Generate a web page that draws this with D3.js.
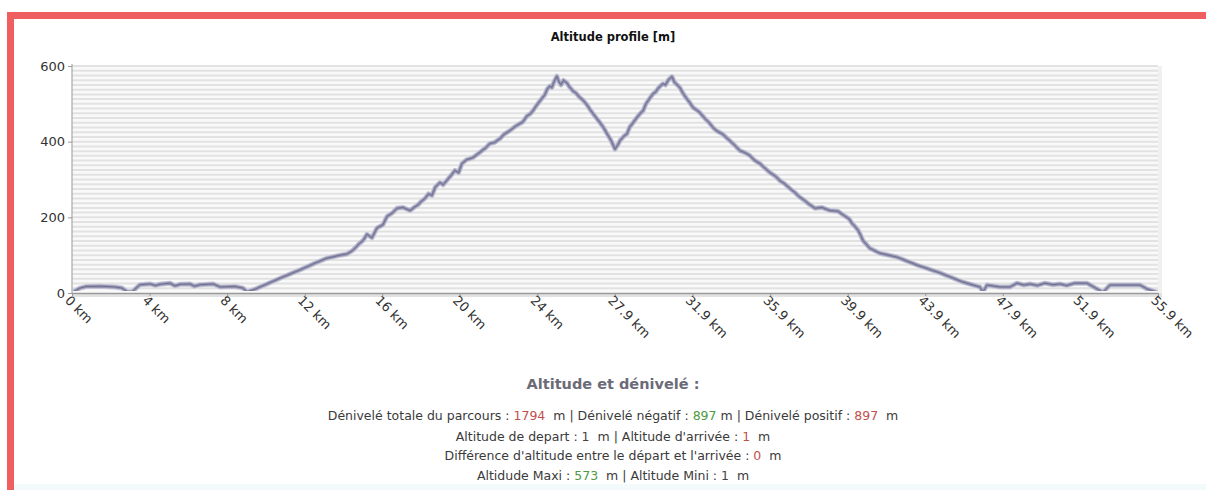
<!DOCTYPE html>
<html><head><meta charset="utf-8">
<script src="https://cdn.jsdelivr.net/npm/d3@7"></script>
<style>html,body{margin:0;padding:0;background:#fff;}svg{display:block;} .stats{white-space:pre;}</style>
</head><body>
<script>
// ---- data ----
const distKm = [
  0, 0.41, 0.72, 1.44, 2.21, 2.57, 2.83, 3.09, 3.5, 4.01,
  4.3, 4.53, 5.04, 5.3, 5.56, 6.07, 6.3, 6.59, 7.26, 7.62,
  8.39, 8.8, 9.01, 9.42, 10.04, 10.71, 11.73, 12.51, 13.12, 13.79,
  14.15, 14.46, 14.82, 15.0, 15.18, 15.44, 15.7, 16.0, 16.21, 16.5,
  16.73, 17.04, 17.4, 17.6, 17.81, 18.0, 18.17, 18.35, 18.53, 18.7,
  18.94, 19.1, 19.35, 19.5, 19.71, 19.9, 20.07, 20.3, 20.64, 20.85,
  21.1, 21.3, 21.51, 21.75, 22.03, 22.25, 22.54, 22.75, 22.96, 23.2,
  23.42, 23.6, 23.73, 23.9, 24.09, 24.2, 24.34, 24.45, 24.6, 24.7,
  24.81, 24.96, 25.05, 25.17, 25.3, 25.48, 25.6, 25.79, 25.95, 26.15,
  26.3, 26.51, 26.65, 26.82, 27.0, 27.18, 27.35, 27.54, 27.75, 27.95,
  28.1, 28.21, 28.4, 28.57, 28.7, 28.88, 29.05, 29.24, 29.4, 29.54,
  29.7, 29.9, 30.05, 30.16, 30.3, 30.42, 30.55, 30.68, 30.88, 31.0,
  31.09, 31.2, 31.3, 31.45, 31.61, 31.8, 31.97, 32.15, 32.33, 32.6,
  32.8, 33.0, 33.2, 33.46, 33.7, 34.02, 34.2, 34.38, 34.6, 34.9,
  35.1, 35.41, 35.6, 35.93, 36.2, 36.44, 36.7, 36.96, 37.2, 37.47,
  37.7, 37.88, 38.24, 38.6, 39.01, 39.43, 39.79, 40.0, 40.15, 40.3,
  40.46, 40.6, 40.71, 41.07, 41.59, 42.46, 43.49, 44.68, 45.86, 46.73,
  46.89, 47.1, 47.76, 48.28, 48.64, 49.0, 49.31, 49.7, 50.08, 50.5,
  50.85, 51.2, 51.62, 52.24, 52.76, 53.07, 53.43, 54.2, 54.97, 55.33,
  55.9
];
const altM = [
  1, 13, 17, 18, 16, 13, 4, 3, 22, 24,
  20, 23, 26, 19, 23, 24, 18, 22, 24, 16,
  17, 13, 3, 10, 24, 39, 61, 79, 92, 100,
  103, 113, 132, 140, 155, 146, 172, 180, 202, 212,
  224, 226, 218, 226, 233, 243, 250, 262, 258, 280,
  292, 286, 301, 310, 324, 318, 342, 352, 358, 366,
  376, 384, 395, 398, 408, 420, 429, 438, 445, 452,
  468, 474, 482, 495, 508, 515, 524, 538, 547, 543,
  558, 573, 560, 550, 562, 555, 545, 534, 528, 516,
  510, 497, 486, 474, 462, 450, 438, 421, 403, 380,
  392, 403, 414, 421, 438, 450, 462, 474, 482, 500,
  512, 526, 532, 540, 548, 553, 550, 562, 572, 558,
  553, 548, 542, 528, 516, 503, 490, 484, 476, 460,
  450, 437, 428, 421, 410, 395, 386, 376, 372, 363,
  352, 342, 333, 318, 309, 297, 288, 276, 266, 253,
  245, 237, 224, 226, 218, 216, 203, 196, 184, 176,
  166, 152, 139, 118, 105, 95, 74, 53, 29, 16,
  3, 21, 16, 16, 26, 21, 24, 20, 26, 22,
  24, 20, 26, 26, 11, 2, 21, 21, 21, 11,
  1
];
const xTickValues = [0, 3.99, 7.99, 11.98, 15.97, 19.96, 23.96, 27.95, 31.94, 35.94, 39.93, 43.92, 47.91, 51.9, 55.9];
const xTickLabels = ["0 km","4 km","8 km","12 km","16 km","20 km","24 km","27.9 km","31.9 km","35.9 km","39.9 km","43.9 km","47.9 km","51.9 km","55.9 km"];
const yTickValues = [0, 200, 400, 600];
const gridStep = 12.5;

const chartTitle = "Altitude profile [m]";
const statsTitle = "Altitude et dénivelé :";
const statsLines = [
  [["Dénivelé totale du parcours : ", null], ["1794", "red"], ["  m | Dénivelé négatif : ", null], ["897", "green"], [" m | Dénivelé positif : ", null], ["897", "red"], ["  m", null]],
  [["Altitude de depart : ", null], ["1", "dark"], ["  m | Altitude d'arrivée : ", null], ["1", "red"], ["  m", null]],
  [["Différence d'altitude entre le départ et l'arrivée : ", null], ["0", "red"], ["  m", null]],
  [["Altidude Maxi : ", null], ["573", "green"], ["  m | Altitude Mini : ", null], ["1", "dark"], ["  m", null]]
];

// ---- drawing ----
const W = 1206, H = 490;
const svg = d3.select("body").append("svg").attr("width", W).attr("height", H);
const font = "'DejaVu Sans', Verdana, sans-serif";

// frame
svg.append("rect").attr("x", 14).attr("y", 484).attr("width", W - 14).attr("height", 6).attr("fill", "#f3fafc");
svg.append("rect").attr("x", 7).attr("y", 12).attr("width", W - 7).attr("height", 7).attr("fill", "#f05f5f");
svg.append("rect").attr("x", 7).attr("y", 12).attr("width", 7).attr("height", H - 12).attr("fill", "#f05f5f");

const m = {left: 72, right: 1158, top: 66, bottom: 293};
const x = d3.scaleLinear().domain([0, 55.9]).range([m.left, m.right]);
const y = d3.scaleLinear().domain([0, 600]).range([m.bottom, m.top]);

// plot background + shadow
svg.append("rect").attr("x", m.right).attr("y", m.top).attr("width", 4).attr("height", m.bottom - m.top + 4).attr("fill", "#f0f0f0");
svg.append("rect").attr("x", m.left).attr("y", m.bottom).attr("width", m.right - m.left + 4).attr("height", 4).attr("fill", "#e2e2e2");
svg.append("rect").attr("x", m.left).attr("y", m.top).attr("width", m.right - m.left).attr("height", m.bottom - m.top).attr("fill", "#f9f9f9");

const gridVals = d3.range(gridStep, 600 + 0.01, gridStep);
svg.append("g").selectAll("line").data(gridVals).join("line")
  .attr("x1", m.left).attr("x2", m.right)
  .attr("y1", d => y(d)).attr("y2", d => y(d))
  .attr("stroke", "#e2e2e2").attr("stroke-width", 2);

// axes
svg.append("line").attr("x1", m.left).attr("x2", m.left).attr("y1", m.top - 2).attr("y2", m.bottom)
  .attr("stroke", "#a8a8a8").attr("stroke-width", 1.2);
svg.append("line").attr("x1", m.left).attr("x2", m.right).attr("y1", m.bottom + 0.5).attr("y2", m.bottom + 0.5)
  .attr("stroke", "#9a9a9a").attr("stroke-width", 1.5);

const yAxis = svg.append("g").attr("transform", `translate(${m.left},0)`)
  .call(d3.axisLeft(y).tickValues(yTickValues).tickSize(4).tickPadding(3).tickFormat(d3.format("d")));
yAxis.select(".domain").remove();
yAxis.selectAll("line").attr("stroke", "#999");
yAxis.selectAll("text").attr("font-family", font).attr("font-size", 13).attr("fill", "#333");

const xAxis = svg.append("g").attr("transform", `translate(0,${m.bottom})`)
  .call(d3.axisBottom(x).tickValues(xTickValues).tickSize(3).tickFormat((d, i) => xTickLabels[i]));
xAxis.select(".domain").remove();
xAxis.selectAll("line").attr("stroke", "#999");
xAxis.selectAll("text")
  .attr("font-family", font).attr("font-size", 13).attr("fill", "#333")
  .attr("text-anchor", "start")
  .attr("transform", "translate(-5,5) rotate(45)")
  .attr("x", 0).attr("y", 0).attr("dy", "0.35em");

// line
const pts = distKm.map((d, i) => [d, altM[i]]);
const line = d3.line().x(d => x(d[0])).y(d => y(d[1]));
svg.append("defs").append("clipPath").attr("id", "pc").append("rect")
  .attr("x", m.left).attr("y", m.top - 10).attr("width", m.right - m.left).attr("height", m.bottom - m.top + 8);
const lg = svg.append("g").attr("clip-path", "url(#pc)");
lg.append("path").datum(pts).attr("d", line).attr("fill", "none")
  .attr("stroke", "#c4c4d6").attr("stroke-width", 5).attr("stroke-linejoin", "round");
lg.append("path").datum(pts).attr("d", line).attr("fill", "none")
  .attr("stroke", "#9696b4").attr("stroke-width", 3).attr("stroke-linejoin", "round");
lg.append("path").datum(pts).attr("d", line).attr("fill", "none")
  .attr("stroke", "#6e6e8e").attr("stroke-width", 1).attr("stroke-linejoin", "round");

// title
svg.append("text").attr("x", 613).attr("y", 41).attr("text-anchor", "middle")
  .attr("font-family", font).attr("font-weight", "bold").attr("font-size", 11.5).attr("fill", "#111")
  .text(chartTitle);

// stats block
svg.append("text").attr("x", 613).attr("y", 389).attr("text-anchor", "middle")
  .attr("font-family", font).attr("font-weight", "bold").attr("font-size", 14.5).attr("fill", "#6b6b78")
  .text(statsTitle);

const colors = {red: "#c0504d", green: "#4e9a3e", dark: "#444"};
const lineY = [420, 441, 460, 480];
statsLines.forEach((parts, i) => {
  const t = svg.append("text").attr("class", "stats").attr("x", 613).attr("y", lineY[i]).attr("text-anchor", "middle")
    .attr("font-family", font).attr("font-size", 12.5).attr("fill", "#3a3a3a");
  parts.forEach(p => {
    t.append("tspan").text(p[0]).attr("fill", p[1] ? colors[p[1]] : "#3a3a3a");
  });
});
</script>
</body></html>
